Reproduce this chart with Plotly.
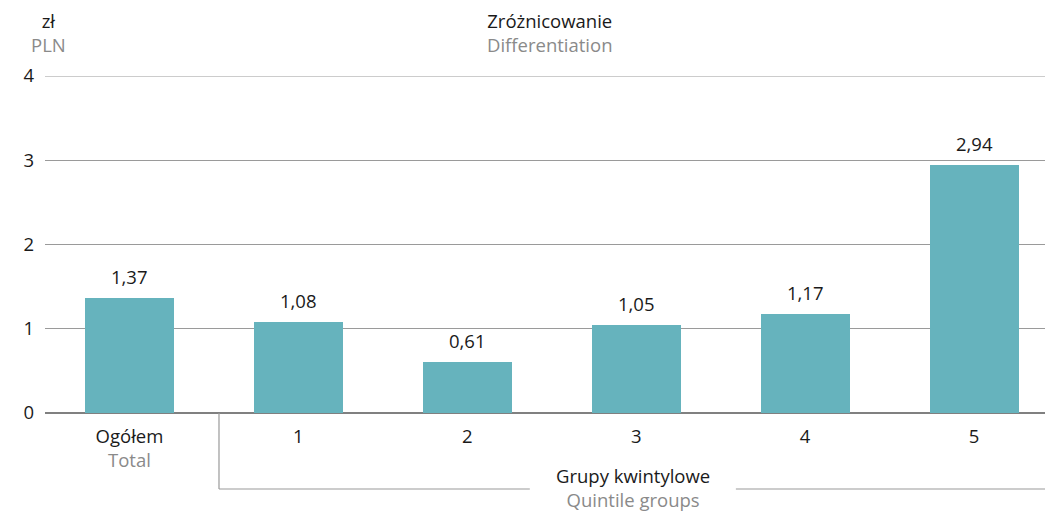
import plotly.graph_objects as go

# Category labels (Polish / English) and values in PLN
categories_pl = ["Ogółem", "1", "2", "3", "4", "5"]
categories_en = ["Total", "", "", "", "", ""]
values = [1.37, 1.08, 0.61, 1.05, 1.17, 2.94]
y_ticks = [0, 1, 2, 3, 4]

BAR = "#66b3bd"
GREY = "#8a8a8a"
DARK = "#1a1a1a"
GRID = "#9a9a9a"
FONT = "Open Sans"
FS = 18.5

x_pos = list(range(len(values)))
labels = [f"{v:.2f}".replace(".", ",") for v in values]

tick_text = []
for pl, en in zip(categories_pl, categories_en):
    if en:
        tick_text.append(f"{pl}<br><span style='color:{GREY}'>{en}</span>")
    else:
        tick_text.append(pl)

fig = go.Figure()
fig.add_trace(go.Bar(
    x=x_pos, y=values, width=0.527,
    marker=dict(color=BAR, line=dict(width=0)),
    hoverinfo="skip",
))

# value labels above bars
for x, v, t in zip(x_pos, values, labels):
    fig.add_annotation(x=x, y=v, text=t, showarrow=False, yanchor="bottom",
                       yshift=7, font=dict(family=FONT, size=FS, color=DARK))

# pixel -> paper helpers (plot area spans 76..413 vertically, 45..1045 horizontally)
TOP, BOT = 76, 413
plot_h = BOT - TOP


def py(pix):
    return (BOT - pix) / plot_h


def px(pix):
    return (pix - 45) / 1000


# top gridline at the upper end of the axis range
fig.add_shape(type="line", xref="paper", yref="y", x0=0, x1=1, y0=y_ticks[-1], y1=y_ticks[-1],
              line=dict(color=GRID, width=1), layer="below")

# bracket grouping the quintile groups
y_br = py(489)
line_style = dict(color=GRID, width=1.2)
fig.add_shape(type="line", xref="x", yref="paper", x0=0.53, x1=0.53, y0=0, y1=y_br, line=line_style)
fig.add_shape(type="line", xref="x", yref="paper", x0=0.53, x1=2.37, y0=y_br, y1=y_br, line=line_style)
fig.add_shape(type="line", xref="x", yref="paper", x0=3.59, x1=5.42, y0=y_br, y1=y_br, line=line_style)
fig.add_annotation(xref="x", yref="paper", x=2.98, y=py(487), showarrow=False,
                   text=f"Grupy kwintylowe<br><span style='color:{GREY}'>Quintile groups</span>",
                   yanchor="middle", borderpad=0,
                   font=dict(family=FONT, size=FS, color=DARK))

# titles
fig.add_annotation(xref="paper", yref="paper", x=px(550), y=py(33),
                   text=f"Zróżnicowanie<br><span style='color:{GREY}'>Differentiation</span>",
                   showarrow=False, yanchor="middle",
                   font=dict(family=FONT, size=FS, color=DARK))
fig.add_annotation(xref="paper", yref="paper", x=px(29), y=py(33),
                   text=f"zł<br><span style='color:{GREY}'>PLN</span>",
                   showarrow=False, yanchor="middle",
                   font=dict(family=FONT, size=FS, color=DARK))

fig.update_layout(
    width=1045, height=512,
    margin=dict(l=45, r=0, t=76, b=99),
    plot_bgcolor="white", paper_bgcolor="white",
    showlegend=False, bargap=0,
    font=dict(family=FONT, size=FS, color=DARK),
    xaxis=dict(
        range=[-0.5, 5.42], tickmode="array", tickvals=x_pos, ticktext=tick_text,
        showgrid=False, zeroline=False, showline=False, ticks="",
        ticklabelstandoff=10, fixedrange=True,
    ),
    yaxis=dict(
        range=[0, 4], tickvals=y_ticks, ticktext=[str(t) for t in y_ticks],
        showgrid=True, gridcolor=GRID, gridwidth=1,
        zeroline=True, zerolinecolor="#808080", zerolinewidth=1.6,
        showline=False, ticks="", ticklabelstandoff=10, fixedrange=True,
    ),
)

fig.write_html("out.html")
